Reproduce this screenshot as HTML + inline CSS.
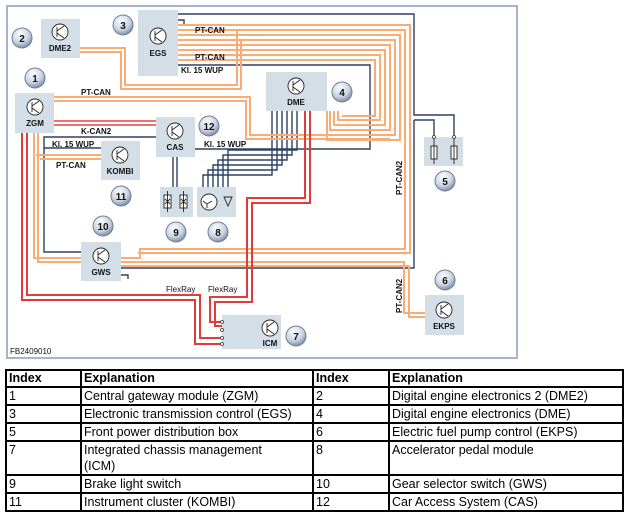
<!DOCTYPE html>
<html><head><meta charset="utf-8"><style>
html,body{margin:0;padding:0;background:#fff;}
body{width:627px;height:519px;position:relative;overflow:hidden;font-family:"Liberation Sans",Arial,sans-serif;}
svg{position:absolute;left:0;top:0;}
table{position:absolute;left:5px;top:369px;border-collapse:collapse;font-size:12.5px;color:#000;table-layout:fixed;width:617px;}
td{border:2px solid #000;padding:0 2px;vertical-align:top;line-height:16px;height:16px;overflow:hidden;white-space:nowrap;}
th{border:2px solid #000;padding:0 2px;text-align:left;font-weight:bold;line-height:15px;}
</style></head><body>
<svg width="627" height="369" viewBox="0 0 627 369" xmlns="http://www.w3.org/2000/svg">
<defs>
<radialGradient id="cg" cx="40%" cy="30%" r="75%"><stop offset="0" stop-color="#ffffff"/><stop offset="0.6" stop-color="#c9d3e0"/><stop offset="1" stop-color="#6f819c"/></radialGradient>
</defs>
<rect x="7" y="6" width="510" height="352" fill="#fff" stroke="#a3b5d0" stroke-width="2"/>
<g fill="none" stroke-linejoin="miter">
<g stroke="#2e4262" stroke-width="1.4">
<path d="M178,14 H414 V115 H454 V137"/>
<path d="M414,120 V268 H121"/>
<path d="M414,120 H434 V137"/>
<path d="M178,65 H370 V149 H195"/>
<path d="M156,137 H44 V252 H81"/>
<path d="M44,148 H101"/>
<path d="M173,157 V187 M177,157 V187"/>
<path d="M272,111 V175 H203 V187"/>
<path d="M277,111 V170 H208 V187"/>
<path d="M282,111 V165 H213 V187"/>
<path d="M287,111 V160 H218 V187"/>
<path d="M292,111 V155 H223 V187"/>
<path d="M297,111 V150 H228 V187"/>
<path d="M121,275 H128 V279"/>
<path d="M178,20 H184 V24"/>
</g>
<g stroke="#fbac74" stroke-width="2">
<path d="M178,25 H410 V253 H138"/>
<path d="M178,30 H405 V249 H140 V258 H121"/>
<path d="M178,35 H400 V140 H327 V111"/>
<path d="M178,40 H395 V135 H324"/>
<path d="M178,45 H390 V130 H330 V111"/>
<path d="M178,50 H385 V125 H334 V111"/>
<path d="M178,55 H380 V120 H338 V111"/>
<path d="M178,60 H375 V116 H342"/>
<path d="M80,48 H125 V85 H237 V30"/>
<path d="M80,52 H121 V89 H241 V40"/>
<path d="M54,97 H250 V135 H395"/>
<path d="M54,101 H246 V139 H390"/>
<path d="M34,133 V258 H81"/>
<path d="M38,133 V262 H81"/>
<path d="M36,155 H101 M40,159 H101"/>
<path d="M121,262 H404 V313 H425"/>
<path d="M121,266 H409 V317 H425"/>
</g>
<g stroke="#e33a3a" stroke-width="2">
<path d="M22,133 V300 H195 V344 H255"/>
<path d="M27,133 V295 H200 V338 H235"/>
<path d="M305,111 V198 H247 V297 H210 V322 H240 V330"/>
<path d="M310,111 V203 H252 V302 H215 V326 H250"/>
</g>
<g stroke="#f07070" stroke-width="2"><path d="M54,121 H156 M54,125 H156"/></g>
</g>
<g fill="#d3dee7">
<rect x="41" y="19" width="39" height="39"/>
<rect x="138" y="10" width="40" height="66"/>
<rect x="15" y="93" width="39" height="40"/>
<rect x="266" y="72" width="61" height="39"/>
<rect x="156" y="117" width="39" height="40"/>
<rect x="101" y="141" width="39" height="39"/>
<rect x="160" y="187" width="33" height="30"/>
<rect x="197" y="187" width="39" height="30"/>
<rect x="81" y="242" width="40" height="39"/>
<rect x="222" y="315" width="59" height="34"/>
<rect x="424" y="137" width="39" height="29"/>
<rect x="425" y="295" width="39" height="40"/>
</g>
<g fill="none" stroke="#222" stroke-width="0.9">
<g transform="translate(60,32)"><circle r="8" fill="#fff"/><path d="M-3,-5 V5 M-3,-1 L4,-6 M-3,1 L4,6"/></g>
<g transform="translate(158,36)"><circle r="8" fill="#fff"/><path d="M-3,-5 V5 M-3,-1 L4,-6 M-3,1 L4,6"/></g>
<g transform="translate(35,107)"><circle r="8" fill="#fff"/><path d="M-3,-5 V5 M-3,-1 L4,-6 M-3,1 L4,6"/></g>
<g transform="translate(296,86)"><circle r="8" fill="#fff"/><path d="M-3,-5 V5 M-3,-1 L4,-6 M-3,1 L4,6"/></g>
<g transform="translate(175,131)"><circle r="8" fill="#fff"/><path d="M-3,-5 V5 M-3,-1 L4,-6 M-3,1 L4,6"/></g>
<g transform="translate(120,155)"><circle r="8" fill="#fff"/><path d="M-3,-5 V5 M-3,-1 L4,-6 M-3,1 L4,6"/></g>
<g transform="translate(101,256)"><circle r="8" fill="#fff"/><path d="M-3,-5 V5 M-3,-1 L4,-6 M-3,1 L4,6"/></g>
<g transform="translate(270,328)"><circle r="8" fill="#fff"/><path d="M-3,-5 V5 M-3,-1 L4,-6 M-3,1 L4,6"/></g>
<g transform="translate(444,310)"><circle r="8" fill="#fff"/><path d="M-3,-5 V5 M-3,-1 L4,-6 M-3,1 L4,6"/></g>
<g transform="translate(209,202)"><circle r="8" fill="#fff"/><path d="M-6,-1 L-2,2 L3,-1 M-2,2 V6"/></g>
<path d="M224,197 L232,197 L228,206 Z"/>
<rect x="164" y="195" width="7" height="13" fill="#fff"/><path d="M167.5,191 V212 M165,199 L170,204 M170,199 L165,204"/>
<rect x="180" y="195" width="7" height="13" fill="#fff"/><path d="M183.5,191 V212 M181,199 L186,204 M186,199 L181,204"/>
<rect x="431" y="146" width="6" height="13" fill="#fff"/><path d="M434,137 V164"/>
<rect x="451" y="146" width="6" height="13" fill="#fff"/><path d="M454,137 V164"/>
</g>
<g fill="#fff" stroke="#333" stroke-width="0.8"><circle cx="434" cy="137" r="1.5"/><circle cx="454" cy="137" r="1.5"/>
<circle cx="222" cy="322" r="1.5"/><circle cx="222" cy="330" r="1.5"/><circle cx="222" cy="338" r="1.5"/><circle cx="222" cy="344" r="1.5"/></g>
<g stroke="#6e7f98" stroke-width="1" fill="url(#cg)">
<circle cx="22" cy="38" r="10"/><circle cx="123" cy="25" r="10"/><circle cx="35" cy="78" r="10"/>
<circle cx="342" cy="92" r="10"/><circle cx="445" cy="181" r="10"/><circle cx="445" cy="280" r="10"/>
<circle cx="296" cy="336" r="10"/><circle cx="218" cy="232" r="10"/><circle cx="176" cy="232" r="10"/>
<circle cx="103" cy="226" r="10"/><circle cx="121" cy="196" r="10"/><circle cx="209" cy="126" r="10"/>
</g>
<g font-family="Liberation Sans, Arial, sans-serif" font-weight="bold" font-size="10" fill="#111" text-anchor="middle">
<text x="22" y="42">2</text><text x="123" y="29">3</text><text x="35" y="82">1</text>
<text x="342" y="96">4</text><text x="445" y="185">5</text><text x="445" y="284">6</text>
<text x="296" y="340">7</text><text x="218" y="236">8</text><text x="176" y="236">9</text>
<text x="103" y="230">10</text><text x="121" y="200">11</text><text x="209" y="130">12</text>
</g>
<g font-family="Liberation Sans, Arial, sans-serif" font-weight="bold" font-size="8" fill="#111" text-anchor="middle">
<text x="60" y="51">DME2</text><text x="158" y="56">EGS</text><text x="35" y="126">ZGM</text>
<text x="296" y="105">DME</text><text x="175" y="150">CAS</text><text x="120" y="174">KOMBI</text>
<text x="101" y="275">GWS</text><text x="270" y="346">ICM</text><text x="444" y="329">EKPS</text>
</g>
<g font-family="Liberation Sans, Arial, sans-serif" font-weight="bold" font-size="8" fill="#111">
<text x="195" y="33">PT-CAN</text><text x="195" y="60">PT-CAN</text><text x="181" y="73">Kl. 15 WUP</text>
<text x="81" y="95">PT-CAN</text><text x="81" y="134">K-CAN2</text><text x="52" y="147">Kl. 15 WUP</text>
<text x="56" y="168">PT-CAN</text><text x="204" y="147">Kl. 15 WUP</text>
<text transform="translate(402,195) rotate(-90)">PT-CAN2</text>
<text transform="translate(402,313) rotate(-90)">PT-CAN2</text>
</g>
<g font-family="Liberation Sans, Arial, sans-serif" font-size="8" fill="#111">
<text x="166" y="292">FlexRay</text><text x="208" y="292">FlexRay</text>
<text x="10" y="354">FB2409010</text>
</g>
</svg>
<table>
<colgroup><col style="width:75px"><col style="width:232px"><col style="width:76px"><col style="width:234px"></colgroup>
<tr><th>Index</th><th>Explanation</th><th>Index</th><th>Explanation</th></tr>
<tr><td>1</td><td>Central gateway module (ZGM)</td><td>2</td><td>Digital engine electronics 2 (DME2)</td></tr>
<tr><td>3</td><td>Electronic transmission control (EGS)</td><td>4</td><td>Digital engine electronics (DME)</td></tr>
<tr><td>5</td><td>Front power distribution box</td><td>6</td><td>Electric fuel pump control (EKPS)</td></tr>
<tr><td style="height:32px">7</td><td>Integrated chassis management<br>(ICM)</td><td>8</td><td>Accelerator pedal module</td></tr>
<tr><td>9</td><td>Brake light switch</td><td>10</td><td>Gear selector switch (GWS)</td></tr>
<tr><td>11</td><td>Instrument cluster (KOMBI)</td><td>12</td><td>Car Access System (CAS)</td></tr>
</table>
</body></html>
